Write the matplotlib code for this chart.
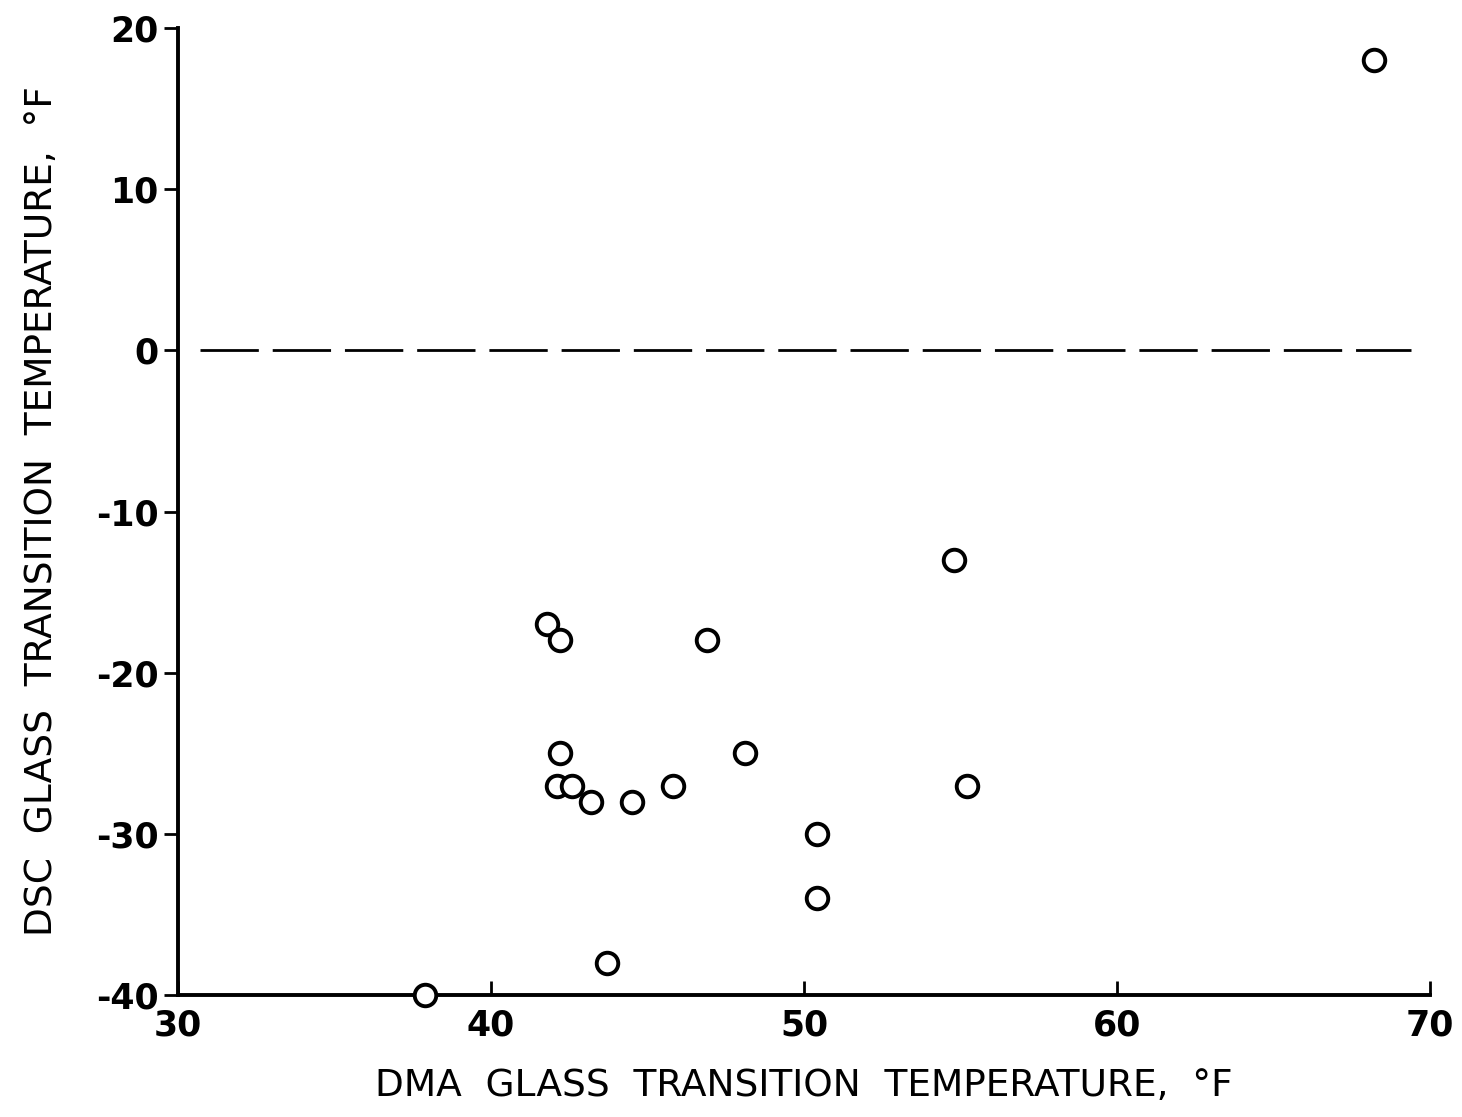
import matplotlib.pyplot as plt

# DMA vs DSC glass transition temperatures (deg F)
dma_tg = [68.2, 54.8, 41.8, 42.2, 46.9, 42.2, 48.1, 42.1, 42.6,
          43.2, 44.5, 45.8, 55.2, 50.4, 50.4, 43.7, 37.9]
dsc_tg = [18, -13, -17, -18, -18, -25, -25, -27, -27,
          -28, -28, -27, -27, -30, -34, -38, -40]

x_ticks = [30, 40, 50, 60, 70]
y_ticks = [-40, -30, -20, -10, 0, 10, 20]

plt.rcParams['font.family'] = 'DejaVu Sans'

fig = plt.figure(figsize=(14.62, 11.17), dpi=100)
ax = fig.add_axes([0.1218, 0.1092, 0.8563, 0.8657])

ax.plot(dma_tg, dsc_tg, 'o', ms=15.5, mfc='white', mec='black', mew=2.8,
        clip_on=False, zorder=3)
ax.plot([30.7, 69.4], [0, 0], color='black', lw=2.0, dashes=(21, 5))

ax.set_xlim(30, 70)
ax.set_ylim(-40, 20)
ax.set_xticks(x_ticks)
ax.set_yticks(y_ticks)

for side in ['top', 'right']:
    ax.spines[side].set_visible(False)
for side in ['left', 'bottom']:
    ax.spines[side].set_linewidth(2.8)

ax.tick_params(axis='x', direction='in', length=10, width=2, pad=10,
               labelsize=25)
ax.tick_params(axis='y', direction='out', length=10, width=2, pad=4,
               labelsize=25)
ax.set_yticklabels([str(t) for t in y_ticks])
for lab in ax.get_xticklabels() + ax.get_yticklabels():
    lab.set_fontweight('bold')

ax.set_xlabel('DMA  GLASS  TRANSITION  TEMPERATURE,  °F', fontsize=27,
              labelpad=18)
ax.set_ylabel('DSC  GLASS  TRANSITION  TEMPERATURE,  °F', fontsize=27,
              labelpad=26)

plt.savefig('out.png', dpi=100)
